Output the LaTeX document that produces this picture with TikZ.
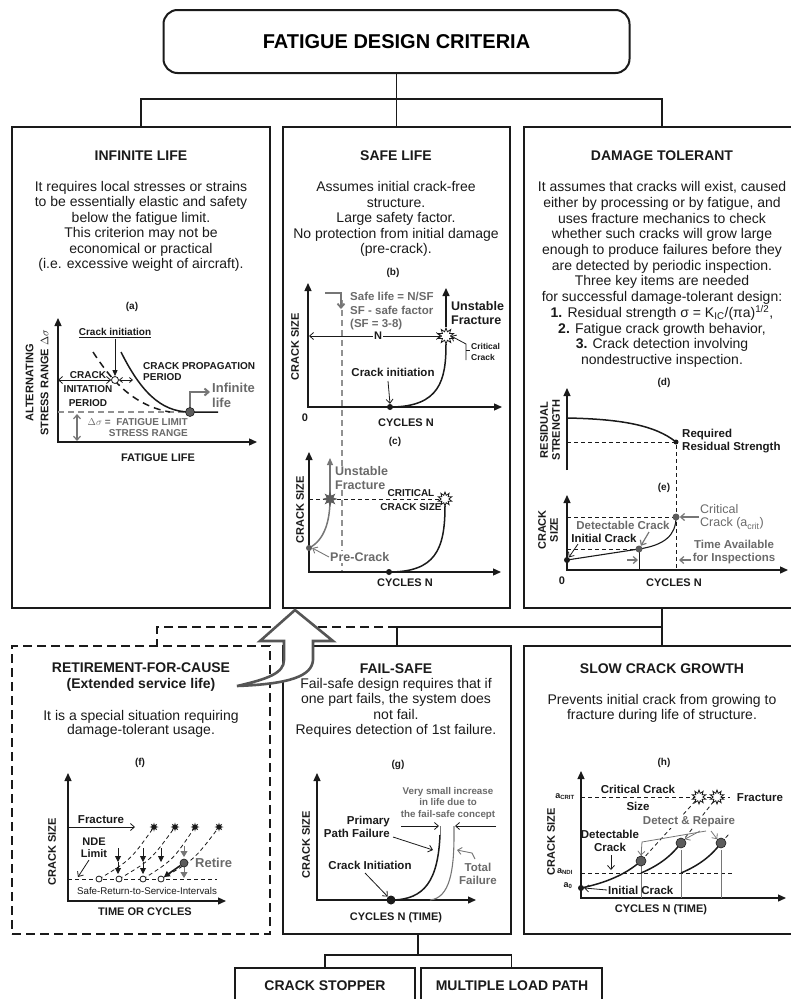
\documentclass[tikz,border=0pt]{standalone}
\usepackage{fontspec}
\setmainfont{Liberation Sans}
\usepackage{tikz}
\usetikzlibrary{positioning,shapes.geometric,arrows.meta,calc}
\definecolor{ink}      {HTML}{1A1A1A}
\definecolor{greytext} {HTML}{6A6A6A}
\definecolor{greyline} {HTML}{767676}
\definecolor{greydot}  {HTML}{5C5C5C}
\definecolor{arrowgrey}{HTML}{555555}
\tikzset{
  % --- boxes
  hdr/.style   = {draw=ink, line width=2pt, rounded corners=14pt, minimum width=466pt,
                  minimum height=63pt, font=\fontsize{20}{24}\selectfont\bfseries},
  panel/.style = {draw=ink, line width=1.6pt, inner sep=0pt},
  link/.style  = {draw=ink, line width=1.4pt},
  % --- texts
  ttl/.style   = {font=\fontsize{14}{16}\selectfont\bfseries, align=center, text=ink},
  body/.style  = {font=\fontsize{14}{15.5}\selectfont, align=center, text=ink},
  tag/.style   = {font=\fontsize{10}{12}\selectfont\bfseries, text=ink},
  lab/.style   = {font=\fontsize{11}{12.5}\selectfont\bfseries, align=center, text=ink, inner sep=1pt},
  note/.style  = {font=\fontsize{11.5}{13.5}\selectfont\bfseries, align=center, text=ink, inner sep=1pt},
  bignote/.style = {note, font=\fontsize{12.5}{13.5}\selectfont\bfseries},
  fine/.style  = {font=\fontsize{10}{11}\selectfont\bfseries, align=center, text=ink, inner sep=1pt},
  gtxt/.style  = {text=greytext},
  % --- lines
  ax/.style    = {draw=ink, line width=1.3pt, {Triangle[length=8pt,width=7pt]}-{Triangle[length=8pt,width=7pt]}},
  ax1/.style   = {draw=ink, line width=1.3pt, -{Triangle[length=8pt,width=7pt]}},
  curve/.style = {draw=ink, line width=1.5pt},
  ptr/.style   = {draw=ink, line width=0.8pt, -{Straight Barb[length=4pt,width=7pt]}},
  gptr/.style  = {ptr, draw=greyline, line width=1.2pt},
  dline/.style = {draw=ink, line width=0.8pt, dash pattern=on 4pt off 3pt},
  gdline/.style= {draw=greyline!80, line width=1.2pt, dash pattern=on 6pt off 4pt},
  blob/.style  = {circle, fill=ink, inner sep=0pt, minimum size=6pt},
  gblob/.style = {circle, fill=greydot, draw=ink, inner sep=0pt, minimum size=9pt, line width=0.6pt},
  ring/.style  = {circle, draw=ink, fill=white, inner sep=0pt, minimum size=7pt, line width=0.8pt},
  burst/.style = {star, star points=10, star point ratio=1.8, draw=ink, fill=white, inner sep=0pt,
                  minimum size=16pt, line width=0.8pt},
}

\begin{document}
\begin{tikzpicture}[x=1pt,y=-1pt]
  \useasboundingbox (0,0) rectangle (791,999);

  % frames
  \node[hdr] (crit) at (396.5,41.5) {FATIGUE DESIGN CRITERIA};
  \node[panel, minimum width=258pt, minimum height=481pt] (inf)   at (141,367.5)   {};
  \node[panel, minimum width=227pt, minimum height=481pt] (saf)   at (396.5,367.5) {};
  \node[panel, minimum width=276pt, minimum height=481pt] (dam)   at (662,367.5)   {};
  \node[panel, dash pattern=on 9pt off 5pt, minimum width=258pt, minimum height=288pt] (ret) at (141,790) {};
  \node[panel, minimum width=228pt, minimum height=288pt] (fsafe) at (397,790)     {};
  \node[panel, minimum width=276pt, minimum height=288pt] (slow)  at (662,790)     {};
  \node[panel, minimum width=180pt, minimum height=44pt]  (stop)  at (325,990)     {};
  \node[panel, minimum width=181pt, minimum height=44pt]  (multi) at (511.5,990)   {};

  % tree connectors
  \coordinate (bar)  at (396.5,99);
  \coordinate (mid)  at (397,627);
  \coordinate (mid2) at (662,627);
  \coordinate (low)  at (418,955);
  \draw[link] (crit.south) -- (saf.north);
  \draw[link] (inf.north) |- (bar) -| (dam.north);
  \draw[link] (dam.south) -- (slow.north);
  \draw[link] (fsafe.north) |- (mid2);
  \draw[link, dash pattern=on 9pt off 5pt] (mid) -| ([xshift=16pt]ret.north);
  \draw[link] ([xshift=21pt]fsafe.south) -- (low);
  \draw[link] (stop.north) |- (low) -| (multi.north);

  % hollow u-turn arrow
  \draw[draw=arrowgrey, fill=white, line width=2.6pt, line join=miter]
    (295,610) -- (333,641) -- (313,641) -- (313,660)
    .. controls (312,676) and (290,684) .. (237,686)
    .. controls (268,679) and (284,673) .. (284,660) -- (284,641) -- (260,641) -- cycle;

  % panel texts
  \node[ttl]  (infT) at (141,156) {INFINITE LIFE};
  \node[body] (infB) at (141,226.5) {It requires local stresses or strains\\to be essentially elastic and safety\\below the fatigue limit.\\This criterion may not be\\economical or practical\\(i.e. excessive weight of aircraft).};
  \node[ttl]  (safT) at (396,156) {SAFE LIFE};
  \node[body] (safB) at (396,219) {Assumes initial crack-free\\structure.\\Large safety factor.\\No protection from initial damage\\(pre-crack).};
  \node[ttl]  (damT) at (662,156) {DAMAGE TOLERANT};
  \node[body, font=\fontsize{14}{15.7}\selectfont] (damB) at (662,274.5) {It assumes that cracks will exist, caused\\either by processing or by fatigue, and\\uses fracture mechanics to check\\whether such cracks will grow large\\enough to produce failures before they\\are detected by periodic inspection.\\Three key items are needed\\for successful damage-tolerant design:\\\textbf{1.} Residual strength σ = K\textsubscript{IC}/(πa)\textsuperscript{1/2},\\\textbf{2.} Fatigue crack growth behavior,\\\textbf{3.} Crack detection involving\\nondestructive inspection.};
  \node[ttl]  (retT) at (141,677) {RETIREMENT-FOR-CAUSE\\(Extended service life)};
  \node[body, font=\fontsize{14}{14.6}\selectfont] (retB) at (141,724) {It is a special situation requiring\\damage-tolerant usage.};
  \node[ttl]  (fsT) at (396,669) {FAIL-SAFE};
  \node[body, font=\fontsize{14}{15.3}\selectfont] (fsB) at (396,708) {Fail-safe design requires that if\\one part fails, the system does\\not fail.\\Requires detection of 1st failure.};
  \node[ttl]  (slT) at (662,669) {SLOW CRACK GROWTH};
  \node[body, font=\fontsize{14}{15.3}\selectfont] (slB) at (662,708.5) {Prevents initial crack from growing to\\fracture during life of structure.};
  \node[ttl]  (stopT)  at (325,986) {CRACK STOPPER};
  \node[ttl]  (multiT) at (512,986) {MULTIPLE LOAD PATH};

  \node[tag] (tagA) at (132,307) {(a)};
  \node[tag] (tagB) at (393,273) {(b)};
  \node[tag] (tagC) at (395,442) {(c)};
  \node[tag] (tagD) at (664,383) {(d)};
  \node[tag] (tagE) at (664,488) {(e)};
  \node[tag] (tagF) at (140,763) {(f)};
  \node[tag] (tagG) at (398,765) {(g)};
  \node[tag] (tagH) at (664,763) {(h)};

  % (a) S-N curve
  \draw[ax] (58,318) -- (58,442) -- (257,442);
  \node[lab, rotate=90, font=\fontsize{11}{15}\selectfont\bfseries] (aY) at (37,383) {ALTERNATING\\STRESS RANGE $\Delta\sigma$};
  \node[lab] (aX) at (158,458) {FATIGUE LIFE};
  \draw[gdline] (58,412) -- (190,412);
  \draw[curve, dash pattern=on 7pt off 5pt] (93,352) .. controls (108,375) and (130,405) .. (170,412);
  \draw[curve] (121,352) .. controls (140,390) and (160,412) .. (190,412) -- (218,412);
  \draw[gptr, line width=2pt] (190,412) -- (190,392) -- (210,392);
  \node[ring]  (aInit) at (115,380) {};
  \node[gblob] (aLim)  at (190,412) {};
  \node[fine] (aCI) at (115,333) {\underline{Crack initiation}};
  \draw[draw=ink, line width=0.8pt, -{Triangle[length=6pt,width=5pt]}] (aCI.south) -- (aInit.north);
  \node[fine, font=\fontsize{10}{14}\selectfont\bfseries] (aCIP) at (88,389) {CRACK\\INITATION\\PERIOD};
  \draw[ptr, {Straight Barb[length=4pt,width=7pt]}-{Straight Barb[length=4pt,width=7pt]}] (58,380) -- (aInit.west);
  \draw[ptr, {Straight Barb[length=3pt,width=5pt]}-{Straight Barb[length=3pt,width=5pt]}] (aInit.east) -- (133,380);
  \node[fine, anchor=west, align=left] (aCPP) at (142,372) {CRACK PROPAGATION\\PERIOD};
  \node[gtxt, font=\fontsize{13}{15}\selectfont\bfseries, align=left, anchor=west, inner sep=1pt] (aInf) at (211,395) {Infinite\\life};
  \draw[gptr, {Straight Barb[length=4pt,width=7pt]}-{Straight Barb[length=4pt,width=7pt]}] (77,414) -- (77,441);
  \node[fine, gtxt, anchor=east, align=right] (aDS) at (189,428) {$\Delta\sigma$ =\ \ FATIGUE LIMIT\\STRESS RANGE};

  % (b) safe life
  \draw[ax] (308,283) -- (308,407) -- (502,407);
  \node[lab] (bZero) at (305,418) {0};
  \node[lab, rotate=90] (bY) at (295,347) {CRACK SIZE};
  \node[lab] (bX) at (406,423) {CYCLES N};
  \draw[gdline] (342,300) -- (342,572);
  \draw[gptr, line width=1.8pt] (325,293) -- (341,293) -- (341,309);
  \node[note, gtxt, anchor=west, align=left] (bSL) at (349,311.5) {Safe life = N/SF\\SF - safe factor\\(SF = 3-8)};
  \draw[curve] (390,407) .. controls (440,407) and (446,380) .. (446,344);
  \node[burst] (bStar) at (446,336) {};
  \draw[ptr, {Straight Barb[length=4pt,width=7pt]}-{Straight Barb[length=4pt,width=7pt]}] (309,336) -- (bStar.west);
  \node[lab, fill=white] (bN) at (378,336) {N};
  \draw[curve, -{Triangle[length=8pt,width=7pt]}] (bStar.north) -- (446,288);
  \node[bignote, anchor=west, align=left] (bUF) at (450,313) {Unstable\\Fracture};
  \draw[ptr] (466,360) -- (466,344) -- (bStar.east);
  \draw[draw=ink, line width=0.8pt] (466,350) -- (470,350);
  \node[fine, font=\fontsize{8.5}{11}\selectfont\bfseries, anchor=west, align=left] (bCC) at (470,352) {Critical\\Crack};
  \node[blob] (bInit) at (390,407) {};
  \node[note] (bCI) at (393,372) {Crack initiation};
  \draw[ptr] (388,381) -- (bInit.north);

  % (c) pre-crack
  \draw[ax] (309,452) -- (309,572) -- (501,572);
  \node[lab, rotate=90] (cY) at (300,510) {CRACK SIZE};
  \node[lab] (cX) at (405,583) {CYCLES N};
  \draw[dline] (309,499) -- (443,499);
  \draw[curve, draw=greyline] (309,548) .. controls (325,540) and (330,520) .. (330,499);
  \draw[draw=greyline, line width=1.2pt, -{Triangle[length=7pt,width=6pt]}] (330,499) -- (330,458);
  \node[star, star points=8, star point ratio=2, fill=greydot, minimum size=15pt, inner sep=0pt] (cStarG) at (330,499) {};
  \node[bignote, gtxt, anchor=west, align=left, fill=white] (cUF) at (334,478) {Unstable\\Fracture};
  \node[circle, fill=greydot, minimum size=6pt, inner sep=0pt] (cPre) at (309,548) {};
  \node[bignote, gtxt, anchor=west, fill=white] (cPC) at (329,557) {Pre-Crack};
  \draw[gptr, line width=0.9pt] (cPC.west) -- (cPre.east);
  \node[fine, font=\fontsize{10}{14}\selectfont\bfseries] (cCCS) at (411,500) {CRITICAL\\CRACK SIZE};
  \draw[curve] (389,572) .. controls (435,572) and (445,550) .. (445,506);
  \node[burst, minimum size=14pt] (cStar) at (445,499) {};
  \node[blob] (cInit) at (389,572) {};

  % (d) residual strength
  \draw[ax1] (567,470) -- (567,388);
  \node[lab, rotate=90, font=\fontsize{11}{12}\selectfont\bfseries] (dY) at (550,430) {RESIDUAL\\STRENGTH};
  \draw[dline] (567,442) -- (676,442) -- (676,570);
  \draw[curve] (567,418) .. controls (620,419) and (655,425) .. (676,442);
  \node[blob, minimum size=5pt] (dReq) at (676,442) {};
  \node[note, anchor=west, align=left] (dRRS) at (681,441) {Required\\Residual Strength};

  % (e) crack growth
  \draw[ax] (567,495) -- (567,570) -- (788,570);
  \node[lab] (eZero) at (562,581) {0};
  \node[lab] (eX) at (674,583) {CYCLES N};
  \node[lab, rotate=90, font=\fontsize{11}{12}\selectfont\bfseries] (eY) at (548,530) {CRACK\\SIZE};
  \draw[dline] (567,517) -- (676,517);
  \draw[dline] (567,549) -- (639,549);
  \draw[draw=ink, line width=0.6pt] (639,549) -- (639,570);
  \draw[curve, line width=1.1pt] (567,560) -- (639,549) .. controls (665,545) and (676,535) .. (676,517);
  \node[blob] (eA0) at (567,560) {};
  \node[circle, fill=greydot, minimum size=7pt, inner sep=0pt] (eDet)  at (639,549) {};
  \node[circle, fill=greydot, minimum size=7pt, inner sep=0pt] (eCrit) at (676,517) {};
  \node[font=\fontsize{12.5}{13.5}\selectfont, text=greytext, anchor=west, align=left, inner sep=1pt] (eCC) at (699,517) {Critical\\Crack (a\textsubscript{crit})};
  \draw[gptr] (eCC.west) -- (eCrit.east);
  \node[note, gtxt] (eDC) at (623,525) {Detectable Crack};
  \draw[gptr] (649,532) -- (eDet);
  \node[note] (eIC) at (604,538) {Initial Crack};
  \draw[ptr] (578,544) -- (eA0);
  \draw[gptr] (627,560) -- (638,560);
  \draw[gptr] (691,560) -- (679,560);
  \node[note, gtxt] (eTA) at (734,552) {Time Available\\for Inspections};

  % (f) retirement-for-cause
  \newcommand{\fburst}[2]{\node[star, star points=8, star point ratio=2.2, fill=ink, minimum size=9pt, inner sep=0pt] (#1) at (#2) {};}
  \draw[ax] (68,773) -- (68,901) -- (226,901);
  \node[lab, rotate=90] (fY) at (52,852) {CRACK SIZE};
  \node[lab] (fX) at (145,912) {TIME OR CYCLES};
  \node[note] (fFr) at (101,820) {Fracture};
  \draw[ptr] (68,827) -- (135,827);
  \draw[dline] (68,879) -- (217,879);
  \foreach \cx/\sx in {99/154, 119/175, 143/195, 161/219}
    \draw[dline] (\cx,879) .. controls ({(\cx+\sx)/2+4},860) .. (\sx,827);
  \fburst{fS1}{154,827} \fburst{fS2}{175,827} \fburst{fS3}{195,827} \fburst{fS4}{219,827}
  \foreach \cx [count=\i] in {99,119,143,161}
    \node[ring, minimum size=6pt] (fR\i) at (\cx,879) {};
  \foreach \cx in {118,143}{
    \draw[draw=ink, line width=0.9pt, -{Triangle[length=6pt,width=6pt]}] (\cx,848) -- (\cx,862);
    \draw[draw=ink, line width=0.9pt, -{Triangle[length=6pt,width=6pt]}] (\cx,862) -- (\cx,874);
  }
  \draw[draw=ink, line width=0.9pt, -{Triangle[length=6pt,width=6pt]}] (161,848) -- (161,862);
  \draw[draw=greyline, line width=1pt, -{Triangle[length=6pt,width=7pt]}] (184,846) -- (184,857);
  \draw[draw=greyline, line width=1pt, -{Triangle[length=6pt,width=7pt]}] (184,867) -- (184,878);
  \node[gblob, minimum size=8pt] (fRet) at (184,863) {};
  \draw[draw=ink, line width=1.6pt, -{Triangle[length=6pt,width=6pt]}] (fRet) -- (fR4);
  \node[gtxt, font=\fontsize{13}{15}\selectfont\bfseries, anchor=west, inner sep=1pt] (fRT) at (194,863) {Retire};
  \node[lab] (fNDE) at (94,848) {NDE\\Limit};
  \draw[ptr] (89,860) -- (78,877);
  \node[font=\fontsize{9.75}{10}\selectfont, text=ink, inner sep=1pt] (fSRS) at (147,891) {Safe-Return-to-Service-Intervals};

  % (g) fail-safe
  \draw[ax] (317,773) -- (317,900) -- (476,900);
  \node[lab, rotate=90] (gY) at (306,845) {CRACK SIZE};
  \node[lab] (gX) at (396,918) {CYCLES N (TIME)};
  \draw[draw=greyline, line width=1.1pt] (430,900) .. controls (450,898) and (454,870) .. (454,835) -- (454,826);
  \draw[draw=greyline, line width=0.8pt] (440,835) -- (440,826);
  \draw[curve] (391,900) .. controls (425,900) and (438,880) .. (440,835);
  \node[blob, minimum size=9pt] (gInit) at (391,900) {};
  \draw[ptr] (401,826) -- (439,826);
  \draw[ptr] (496,826) -- (455,826);
  \node[fine, gtxt, font=\fontsize{9.75}{11.5}\selectfont\bfseries] (gVS) at (448,803) {Very small increase\\in life due to\\the fail-safe concept};
  \node[note, anchor=east, align=right] (gPP) at (391,827) {Primary\\Path Failure};
  \draw[ptr] (393,837) -- (433,850);
  \node[note] (gCI) at (370,865) {Crack Initiation};
  \draw[ptr] (365,873) -- (gInit);
  \node[note, gtxt] (gTF) at (478,874) {Total\\Failure};
  \draw[gptr, line width=0.9pt] (475,859) -- (472,853) -- (457,850);

  % (h) slow crack growth
  \draw[ax] (581,771) -- (581,898) -- (786,898);
  \node[lab, rotate=90] (hY) at (551,842) {CRACK SIZE};
  \node[lab] (hX) at (661,910) {CYCLES N (TIME)};
  \draw[dline] (581,797) -- (730,797);
  \draw[dline] (581,873) -- (732,873);
  \node[fine, font=\fontsize{9}{10}\selectfont\bfseries] (hAC) at (565,797) {a\textsubscript{CRIT}};
  \node[fine, font=\fontsize{9}{10}\selectfont\bfseries] (hAN) at (565,872) {a\textsubscript{NDI}};
  \node[fine, font=\fontsize{9}{10}\selectfont\bfseries] (hA0) at (568,886) {a\textsubscript{0}};
  \node[note] (hCCS) at (638,798) {Critical Crack\\[4pt]Size};
  \node[note] (hFr) at (760,798) {Fracture};
  \draw[dline] (641,861) -- (699,797);
  \draw[dline] (681,843) -- (717,797);
  \draw[dline] (721,843) -- (729,834);
  \node[burst, minimum size=14pt] (hS1) at (699,797) {};
  \node[burst, minimum size=14pt] (hS2) at (717,797) {};
  \foreach \vx in {641,681,721}
    \draw[draw=greyline, line width=0.8pt] (\vx,850) -- (\vx,898);
  \draw[curve] (581,888) .. controls (605,883) and (625,875) .. (641,861);
  \draw[curve] (641,873) .. controls (660,865) and (672,855) .. (681,843);
  \draw[curve] (681,873) .. controls (700,865) and (712,855) .. (721,843);
  \node[blob] (hA0d) at (581,888) {};
  \node[gblob, minimum size=10pt] (hD1) at (641,861) {};
  \node[gblob, minimum size=10pt] (hD2) at (681,843) {};
  \node[gblob, minimum size=10pt] (hD3) at (721,843) {};
  \node[note, gtxt, fill=white, inner sep=0.5pt] (hDR) at (689,822) {Detect \& Repaire};
  \draw[gptr, line width=0.8pt] (706,831) -- (642,842) -- (hD1.north);
  \draw[gptr, line width=0.8pt] (700,831) -- (hD2.north east);
  \draw[gptr, line width=0.8pt] (711,831) -- (hD3.north west);
  \node[note] (hDC) at (610,841) {Detectable\\Crack};
  \draw[ptr] (611,855) -- (611,870);
  \node[note, anchor=west] (hIC) at (607,890) {Initial Crack};
  \draw[ptr] (hIC.west) -- (hA0d.east);
\end{tikzpicture}
\end{document}
